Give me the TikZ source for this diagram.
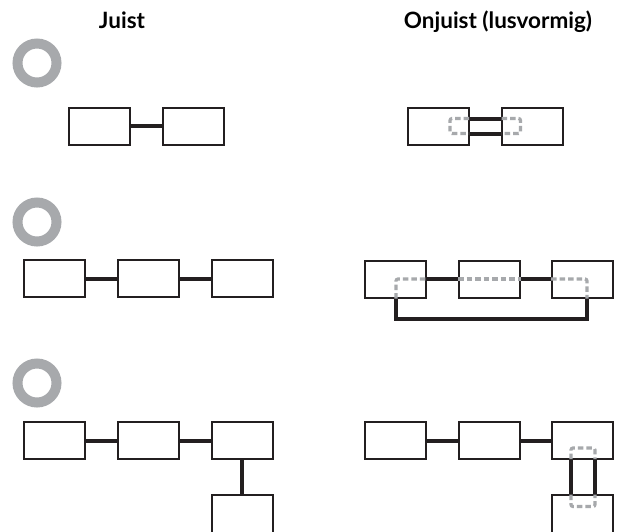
\documentclass[tikz,border=0pt]{standalone}
\usepackage{fontspec}
\setmainfont{Lato}
\definecolor{ink}{HTML}{231F20}
\definecolor{ringgray}{HTML}{A7A9AC}
\definecolor{dashgray}{HTML}{A7A9AC}
\begin{document}
\begin{tikzpicture}[x=1pt,y=-1pt,
  blk/.style={draw=ink,line width=2pt,fill=white,rectangle,inner sep=0pt,minimum width=61pt,minimum height=37pt},
  tallblk/.style={blk,minimum height=60pt},
  link/.style={draw=ink,line width=4pt},
  ghost/.style={draw=dashgray,line width=3.2pt,dash pattern=on 5.5pt off 3pt,rounded corners=2pt},
  ring/.style={draw=ringgray,line width=10pt},
  title/.style={font=\fontsize{22.5}{26}\selectfont\bfseries,anchor=base,text=black}]
\useasboundingbox (0,0) rectangle (621,531);
\clip (0,0) rectangle (621,531);
% titles
\node[title] (t1) at (122,28) {Juist};
\node[title] (t2) at (498,28) {Onjuist (lusvormig)};
% rings
\draw[ring] (37,63) circle (19.5);
\draw[ring] (37,222) circle (19.5);
\draw[ring] (37,383) circle (19.5);
% ---- row 1 ----
\node[blk] (a1) at (99.5,126) {};
\node[blk] (a2) at (193,126) {};
\draw[link] (a1.east) -- (a2.west);
\node[blk] (b1) at (438.5,126) {};
\node[blk] (b2) at (532,126) {};
\draw[link] ([yshift=7.5pt]b1.east) -- ([yshift=7.5pt]b2.west);
\draw[link] ([yshift=-7.5pt]b1.east) -- ([yshift=-7.5pt]b2.west);
\draw[ghost] ([xshift=-1pt,yshift=7.5pt]b1.east) -| ([xshift=-20pt,yshift=-7.5pt]b1.east) -- ([xshift=-1pt,yshift=-7.5pt]b1.east);
\draw[ghost] ([xshift=1pt,yshift=7.5pt]b2.west) -| ([xshift=20pt,yshift=-7.5pt]b2.west) -- ([xshift=1pt,yshift=-7.5pt]b2.west);
% ---- row 2 ----
\node[blk] (c1) at (54.5,278.5) {};
\node[blk] (c2) at (148.5,278.5) {};
\node[blk] (c3) at (242,278.5) {};
\draw[link] (c1.east) -- (c2.west);
\draw[link] (c2.east) -- (c3.west);
\node[blk] (d1) at (395.5,279) {};
\node[blk] (d2) at (489.5,279) {};
\node[blk] (d3) at (582.5,279) {};
\draw[link] (d1.east) -- (d2.west);
\draw[link] (d2.east) -- (d3.west);
\coordinate (l1) at ([xshift=0.5pt]d1.south);
\coordinate (l2) at ([xshift=4.5pt]d3.south);
\draw[link] (l1) -- ++(0,20) -| (l2);
\draw[ghost] (l1) |- (d1.east);
\draw[ghost] (d2.west) -- (d2.east);
\draw[ghost] (d3.west) -| (l2);
% ---- row 3 ----
\node[blk] (e1) at (54.5,440.5) {};
\node[blk] (e2) at (148.5,440.5) {};
\node[blk] (e3) at (242,440.5) {};
\node[tallblk,anchor=north] (e4) at (242,493.5) {};
\draw[link] (e1.east) -- (e2.west);
\draw[link] (e2.east) -- (e3.west);
\draw[link] (e3.south) -- (e4.north);
\node[blk] (f1) at (395.5,440.5) {};
\node[blk] (f2) at (489.5,440.5) {};
\node[blk] (f3) at (582.5,440.5) {};
\node[tallblk,anchor=north] (f4) at (582.5,493.5) {};
\draw[link] (f1.east) -- (f2.west);
\draw[link] (f2.east) -- (f3.west);
\draw[link] ([xshift=-11.5pt]f3.south) -- ([xshift=-11.5pt]f4.north);
\draw[link] ([xshift=12.5pt]f3.south) -- ([xshift=12.5pt]f4.north);
\draw[ghost] ([xshift=-11.5pt,yshift=1pt]f3.south) -- ++(0,-11) -| ([xshift=12.5pt,yshift=1pt]f3.south);
\draw[ghost] ([xshift=-11.5pt,yshift=-1pt]f4.north) -- ++(0,12) -| ([xshift=12.5pt,yshift=-1pt]f4.north);
\end{tikzpicture}
\end{document}
